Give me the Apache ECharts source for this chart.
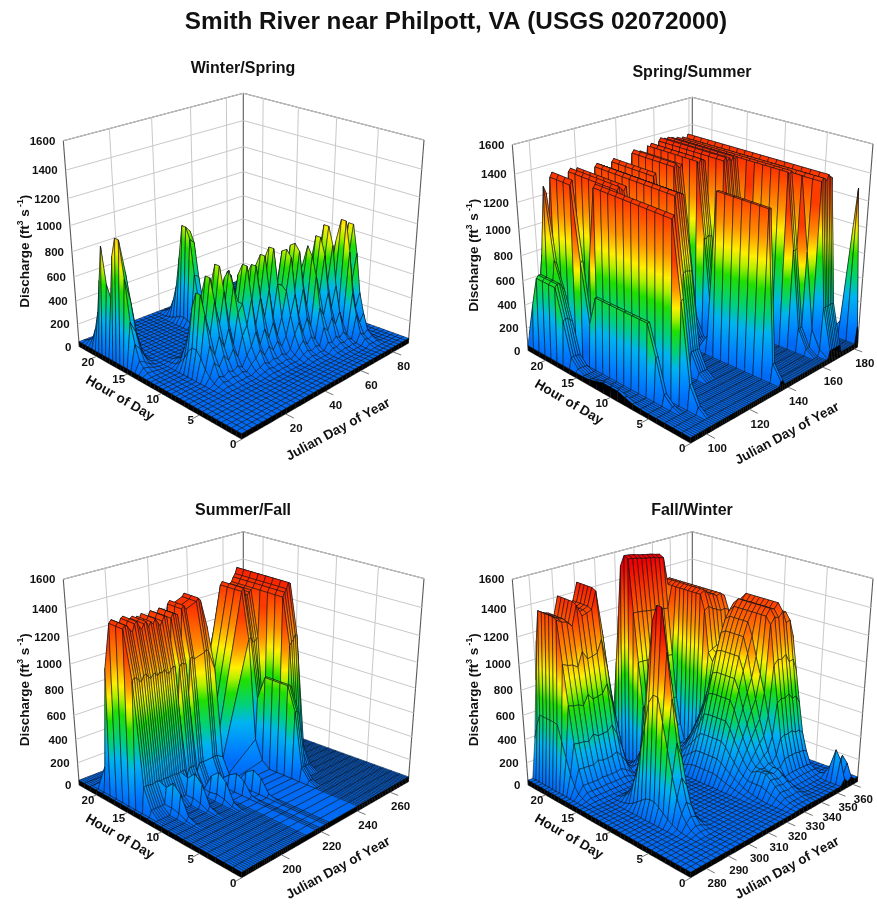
<!DOCTYPE html>
<html><head><meta charset="utf-8">
<script src="https://cdn.jsdelivr.net/npm/echarts@6/dist/echarts.min.js"></script>
<style>html,body{margin:0;padding:0;background:#fff}#c{width:877px;height:904px}</style></head>
<body><div id="c"></div>
<script>
// ---------- values ----------
const mainTitle = 'Smith River near Philpott, VA (USGS 02072000)';
const panelTitles = ['Winter/Spring','Spring/Summer','Summer/Fall','Fall/Winter'];
const qTicks = [0,200,400,600,800,1000,1200,1400,1600];
const hourTicks = [0,5,10,15,20];
const hourMax = 23;
const baseFlow = 45;
const dayRanges = [[0,90],[93,182],[182,272],[273,363]];
const dayTicks1 = [20,40,60,80];
const dayTicks2 = [100,120,140,160,180];
const dayTicks3 = [200,220,240,260];
const dayTicks4 = [280,290,300,310,320,330,340,350,360];
const missingDays3 = [213,214,215,216,220,221,225,226,227,228,229,230,231,232,233,234,235,236,237,238,239];
// mesh spacing of each plot, in days and hours
const meshDayStep = [2.25,1,1,2.25];
const meshHourStep = [0.575,1,1,0.575];

// hour-shoulder fractions either side of a release
const ramp1 = [.4,.1,.03];
const ramp2 = [.6,.15,.04];
const ramp3 = [.75,.16,.04];
const ramp4 = [.6,.22,.06,.02];
const rampNarrow = [.3,.05];
const rampSpike = [.15,.02];
const rampEdge = [.12,.03];
const rampDome = [.65,.3,.1,.03];
const rampWide = [.72,.48,.28,.14,.06];

// releases: [first full hour, last full hour, first day, [discharge on consecutive days], optional shoulder]
const releases1 = [
 [19,19,1,[930,930,930,300,100]],
 [16,17,1,[1030,1030,1030,860,680,450,300,170,100,60]],
 [18,19,39,[300,850,880,880,800,300]],
 [17,17,56,[300,700,700,300],rampNarrow],
 [9,10,13,[150,400,700,700,560,480,600,800,800,560,540,860,860,620,520,640,820]],
 [8,9,30,[820,560,540,830,830,620,500,620,800,800,560,540,850,850,620,520,640,880,880]],
 [7,8,49,[600,580,860,860,640,540,640,880,880,620,600,860]],
 [6,7,61,[860,640,560,640,900,900,640,620,960,960,660,560]],
 [5,6,73,[660,1000,1000,680,660,950,950,620,250,100,60]]
];
const releases2 = [
 [9,11,93,[90,90]],
 [18,21,94,[660,680,680,650,620]],
 [20,20,97,[1350,1300]],
 [17,20,100,[1400,1430]],
 [7,14,100,[640,640]],
 [5,15,104,[1400,1420]],
 [13,20,108,[1400,1420,1400,1380,1410]],
 [9,20,120,[1380,1400,1390,1380,1370]],
 [14,20,128,[1380,1400]],
 [2,8,136,[1350,1350],rampEdge],
 [14,20,138,[1400,1420,1400,1380,1400]],
 [13,20,146,[1420,1400,1430,1420,1410]],
 [11,20,152,[1430,1450,1420,1440,1410,1440,1420,1430]],
 [5,20,160,[1420,1400,1420]],
 [4,20,163,[1400]],
 [2,20,164,[1390,1410,1400,1380,1420,1400,1390],rampNarrow],
 [6,20,172,[720,700,730,690,700,680,640]],
 [1,1,181,[1280],rampEdge]
];
const releases3 = [
 [15,17,184,[1400,1420,1410,1380,1360,1410,1420,1380,1360,1390,1400,1360,1390,1370,1400,1370,1340,1370,1400,1390,1000,1370,1400,1390,1380,1020,1410,1430,1400,1390,1420,1410,1100,1430,1450,1430,1410,1370,1230]],
 [11,11,190,[100,300,100]],
 [11,11,200,[100,300,120]],
 [10,10,208,[100,280,100]],
 [10,10,217,[45,200,45]],
 [9,9,223,[220,45]],
 [15,18,240,[1400,1420,1370,1360,1380,1390]],
 [9,12,241,[800,800,780]],
 [11,18,246,[1400,1430,1450,1490,1480,1260]]
];
const releases4 = [
 [19,22,277,[300,900,1300,1400,1450,1350,1250,1350,1300,1250,1350,1400,1450,1400,1350,1400,1380,1300,1350,1400,1480,1500,1350,1200,1050,850,650,400,250,120,60]],
 [14,15,306,[100,250,420,480,500,450,350,200,100]],
 [19,20,313,[1650,1650,1650,1645,1640,1640,1635,1630,1630,1625,1620,1620,1615,1610,1610,1605,1600,1600,1595,1590]],
 [14,22,333,[1370,1380,1340,1400,1360,1350,1390,1370,1340,1360,1320,1370,1340,1300,1320,1290,1240,800,200]],
 [9,12,319,[100,130,170,220,280,340,400,470,540,610,680,750,820,890,960,1030,1090,1150,1200,1240],rampWide],
 [7,12,339,[1270,1300,1320,1340,1360,1380,1340,1320,1380,1360,1300,1260,1320,1280,1200,1160,300]],
 [4,5,324,[100,150,200,230,240,230,200,190,210,230,220,200,170,130,90],rampDome],
 [8,9,286,[100,300,700,1100,1350,1600,1600,1350,1100,700,300,100],rampDome],
 [1,1,351,[45,45,360,360,45,45,300,490,45],rampSpike]
];

// discharge -> colour stops
const colorQ = [0,150,380,520,730,850,950,1130,1350,1600];
const colorHex = ['#0060f0','#0080ff','#00b4f0','#00d080','#20e000','#b0f000','#fff000','#ff9000','#ff4800','#f00000'];

// ---------- layout ----------
const panelOrigin = [[63.3,93.3],[512.3,97.3],[63.3,531.8],[512.3,531.8]];
const rectW = 361, rectH = 346;
const floorBox = {F:[178.4,346],R:[345,250],B:[180,190],L:[16,253.4]};
const topBox = {F:[178.7,119],R:[360.7,46.7],B:[180,0],L:[0,47.4]};
const persp = 1.17;

function homography(b){
  const F=b.F,R=b.R,B=b.B,L=b.L;
  const dx1=R[0]-B[0],dx2=L[0]-B[0],dx3=F[0]-R[0]+B[0]-L[0];
  const dy1=R[1]-B[1],dy2=L[1]-B[1],dy3=F[1]-R[1]+B[1]-L[1];
  const det=dx1*dy2-dx2*dy1;
  const g=(dx3*dy2-dx2*dy3)/det,h=(dx1*dy3-dx3*dy1)/det;
  const a=R[0]-F[0]+g*R[0],bb=L[0]-F[0]+h*L[0],c=F[0];
  const d=R[1]-F[1]+g*R[1],e=L[1]-F[1]+h*L[1],f=F[1];
  return function(u,v){const s=g*u+h*v+1;return [(a*u+bb*v+c)/s,(d*u+e*v+f)/s];};
}
const floorH = homography(floorBox), topH = homography(topBox);

function projector(params, api){
  const r = params.coordSys;
  return function(day,hour,q){
    const c = api.coord([day,q]);
    const u = (c[0]-r.x)/r.width, w = (r.y+r.height-c[1])/r.height, v = hour/hourMax;
    const t = w/(w+(1-w)*persp);
    const a = floorH(u,v), b = topH(u,v);
    return [r.x+a[0]+(b[0]-a[0])*t, r.y+a[1]+(b[1]-a[1])*t];
  };
}

// ---------- colour ----------
function rgb(hex){return [parseInt(hex.substr(1,2),16),parseInt(hex.substr(3,2),16),parseInt(hex.substr(5,2),16)];}
const colorRgb = colorHex.map(rgb);
function colorAt(q){
  if(q<=colorQ[0]) return colorHex[0];
  for(let i=1;i<colorQ.length;i++){
    if(q<=colorQ[i]){
      const f=(q-colorQ[i-1])/(colorQ[i]-colorQ[i-1]),A=colorRgb[i-1],B=colorRgb[i];
      return 'rgb('+Math.round(A[0]+(B[0]-A[0])*f)+','+Math.round(A[1]+(B[1]-A[1])*f)+','+Math.round(A[2]+(B[2]-A[2])*f)+')';
    }
  }
  return colorHex[colorHex.length-1];
}
function fillFor(pts,qs){
  let lo=Math.min.apply(null,qs),hi=Math.max.apply(null,qs);
  if(hi-lo<25) return colorAt((lo+hi)/2);
  const mid=(lo+hi)/2;let yl=0,nl=0,yh=0,nh=0;
  for(let i=0;i<4;i++){ if(qs[i]<mid){yl+=pts[i][1];nl++;} else {yh+=pts[i][1];nh++;} }
  yl/=nl||1;yh/=nh||1;
  if(Math.abs(yl-yh)<1.5) return colorAt(mid);
  const stops=[{offset:0,color:colorAt(lo)}];
  for(let i=0;i<colorQ.length;i++){ if(colorQ[i]>lo&&colorQ[i]<hi) stops.push({offset:(colorQ[i]-lo)/(hi-lo),color:colorHex[i]}); }
  stops.push({offset:1,color:colorAt(hi)});
  return {type:'linear',x:0,y:yl,x2:0,y2:yh,global:true,colorStops:stops};
}

// ---------- surface ----------
function dailyTable(range,list,ramp){
  const table=[];
  for(let d=range[0];d<=range[1];d++){
    const row=[];
    for(let h=0;h<=hourMax;h++){
      let q=baseFlow;
      list.forEach(function(r){
        const i=d-r[2]; if(i<0||i>=r[3].length) return;
        const dist=h<r[0]?r[0]-h:(h>r[1]?h-r[1]:0);
        const sh=r[4]||ramp;
        const f=dist===0?1:(sh[dist-1]||0);
        q=Math.max(q,baseFlow+(r[3][i]-baseFlow)*f);
      });
      row.push(q);
    }
    table.push(row);
  }
  return table;
}
// read the table at a mesh node
function readTable(table,range,d,h){
  const x=Math.min(d-range[0],table.length-1.0001),y=Math.min(h,hourMax-0.0001);
  const i=Math.floor(x),j=Math.floor(y),fx=x-i,fy=y-j;
  const a=table[i][j]*(1-fy)+table[i][j+1]*fy;
  const b=table[Math.min(i+1,table.length-1)][j]*(1-fy)+table[Math.min(i+1,table.length-1)][j+1]*fy;
  return Math.round(a*(1-fx)+b*fx);
}
function meshList(lo,hi,step,missing){
  const out=[];const n=Math.round((hi-lo)/step);
  for(let i=0;i<=n;i++){const v=lo+i*(hi-lo)/n; if(!missing||missing.indexOf(v)<0) out.push(v);}
  return out;
}
function renderQuad(params,api){
  const p=projector(params,api);
  const d0=api.value(0),d1=api.value(1),h0=api.value(2),h1=api.value(3);
  const qs=[api.value(4),api.value(5),api.value(6),api.value(7)];
  const pts=[p(d0,h0,qs[0]),p(d1,h0,qs[1]),p(d1,h1,qs[2]),p(d0,h1,qs[3])];
  return {type:'polygon',shape:{points:pts},silent:true,style:{fill:fillFor(pts,qs),stroke:'#06101e',lineWidth:.55,lineJoin:'round'}};
}
function renderSkirt(params,api){
  const p=projector(params,api);
  const d0=api.value(0),d1=api.value(1),h0=api.value(2),h1=api.value(3),q0=api.value(4),q1=api.value(5);
  return {type:'polygon',shape:{points:[p(d0,h0,q0),p(d1,h1,q1),p(d1,h1,0),p(d0,h0,0)]},silent:true,style:{fill:'#000',stroke:'#000',lineWidth:.4}};
}
const labelFont='bold 11.5px "Liberation Sans", Arial, sans-serif';
const titleFont='bold 13.5px "Liberation Sans", Arial, sans-serif';
function line(a,b,color,w){return {type:'line',shape:{x1:a[0],y1:a[1],x2:b[0],y2:b[1]},silent:true,style:{stroke:color,lineWidth:w}};}
function renderGrid(range){
  return function(params,api){
    const p=projector(params,api),kind=api.value(0),val=api.value(1),d0=range[0],d1=range[1],col='#c9c9c9';
    if(kind===0) return {type:'group',children:[line(p(d0,hourMax,val),p(d1,hourMax,val),col,1),line(p(d1,hourMax,val),p(d1,0,val),col,1)]};
    if(kind===1) return line(p(val,hourMax,0),p(val,hourMax,1600),col,1);
    if(kind===2) return line(p(d1,val,0),p(d1,val,1600),col,1);
    const dk='#5a5a5a';
    return {type:'group',children:[line(p(d0,hourMax,1600),p(d1,hourMax,1600),dk,1.1),line(p(d1,hourMax,1600),p(d1,0,1600),dk,1.1),
      line(p(d0,hourMax,0),p(d0,hourMax,1600),dk,1.1),line(p(d1,hourMax,0),p(d1,hourMax,1600),dk,1.1),line(p(d1,0,0),p(d1,0,1600),dk,1.1)]};
  };
}
function renderAxes(range){
  return function(params,api){
    const p=projector(params,api),kind=api.value(0),val=api.value(1),d0=range[0],d1=range[1];
    const r=params.coordSys;
    if(kind===0){const a=p(d0,hourMax,val);
      return {type:'text',silent:true,style:{text:String(val),x:a[0]-8,y:a[1]+1,align:'right',verticalAlign:'middle',font:labelFont,fill:'#111'}};}
    if(kind===1){const a=p(val,0,0),b=p(val,-0.9,0);
      return {type:'group',children:[line(a,b,'#777',1),{type:'text',silent:true,style:{text:String(val),x:a[0]+10.5,y:a[1]+15,align:'center',verticalAlign:'middle',font:labelFont,fill:'#111'}}]};}
    if(kind===2){const a=p(d0,val,0),b=p(d0-3,val,0);
      return {type:'group',children:[line(a,b,'#777',1),{type:'text',silent:true,style:{text:String(val),x:a[0]-8.5,y:a[1]+6,align:'center',verticalAlign:'middle',font:labelFont,fill:'#111'}}]};}
    return {type:'group',children:[
      {type:'text',silent:true,x:r.x+56.5,y:r.y+305,rotation:-30*Math.PI/180,style:{text:'Hour of Day',align:'center',verticalAlign:'middle',font:titleFont,fill:'#111'}},
      {type:'text',silent:true,x:r.x+275,y:r.y+336.5,rotation:28.5*Math.PI/180,style:{text:'Julian Day of Year',align:'center',verticalAlign:'middle',font:titleFont,fill:'#111'}},
      {type:'text',silent:true,x:r.x-39,y:r.y+158,rotation:Math.PI/2,style:{text:'{a|Discharge (ft}{s|3}{a| s}{s| -1}{a|)}',align:'center',verticalAlign:'middle',fill:'#111',
        rich:{a:{font:titleFont,fill:'#111',lineHeight:16,verticalAlign:'bottom'},s:{font:'bold 8.5px "Liberation Sans", Arial, sans-serif',fill:'#111',lineHeight:16,verticalAlign:'top'}}}}
    ]};
  };
}

// ---------- assemble ----------
const allReleases=[releases1,releases2,releases3,releases4];
const allRamps=[ramp1,ramp2,ramp3,ramp4];
const allDayTicks=[dayTicks1,dayTicks2,dayTicks3,dayTicks4];
const allMissing=[null,null,missingDays3,null];
const grids=[],xAxes=[],yAxes=[],series=[];
const titles=[{text:mainTitle,left:451,top:5,textAlign:'center',textStyle:{fontFamily:'"Liberation Sans"',fontWeight:'bold',fontSize:24.3,color:'#111'}}];
const titleCentres=[[238,56],[687,60],[238,498],[687,498]];
panelOrigin.forEach(function(o,i){
  const range=dayRanges[i];
  const days=meshList(range[0],range[1],meshDayStep[i],allMissing[i]);
  const hours=meshList(0,hourMax,meshHourStep[i],null);
  const table=dailyTable(range,allReleases[i],allRamps[i]);
  const z=days.map(function(d){return hours.map(function(h){return readTable(table,range,d,h);});});
  grids.push({left:o[0],top:o[1],width:rectW,height:rectH,show:false});
  xAxes.push({gridIndex:i,type:'value',min:range[0],max:range[1],show:false});
  yAxes.push({gridIndex:i,type:'value',min:0,max:1600,show:false});
  titles.push({text:panelTitles[i],left:titleCentres[i][0],top:titleCentres[i][1],textAlign:'center',textStyle:{fontFamily:'"Liberation Sans"',fontWeight:'bold',fontSize:16,color:'#111'}});

  const gridRows=[[3,0]];
  qTicks.forEach(function(q){gridRows.push([0,q]);});
  allDayTicks[i].forEach(function(d){gridRows.push([1,d]);});
  hourTicks.slice(1).forEach(function(h){gridRows.push([2,h]);});
  const base={type:'custom',xAxisIndex:i,yAxisIndex:i,coordinateSystem:'cartesian2d',silent:true,animation:false,clip:false,progressive:0};
  series.push(Object.assign({},base,{renderItem:renderGrid(range),data:gridRows,encode:{x:1,y:1},z:1}));

  const quads=[];
  for(let a=days.length-2;a>=0;a--){
    for(let b=hours.length-2;b>=0;b--){
      quads.push([days[a],days[a+1],hours[b],hours[b+1],z[a][b],z[a+1][b],z[a+1][b+1],z[a][b+1]]);
    }
  }
  series.push(Object.assign({},base,{renderItem:renderQuad,data:quads,encode:{x:0,y:4},z:2}));

  const skirt=[];
  for(let a=days.length-2;a>=0;a--) skirt.push([days[a],days[a+1],0,0,z[a][0],z[a+1][0]]);
  for(let b=hours.length-2;b>=0;b--) skirt.push([days[0],days[0],hours[b],hours[b+1],z[0][b],z[0][b+1]]);
  series.push(Object.assign({},base,{renderItem:renderSkirt,data:skirt,encode:{x:0,y:4},z:3}));

  const axisRows=[[3,0]];
  qTicks.forEach(function(q){axisRows.push([0,q]);});
  allDayTicks[i].forEach(function(d){axisRows.push([1,d]);});
  hourTicks.forEach(function(h){axisRows.push([2,h]);});
  series.push(Object.assign({},base,{renderItem:renderAxes(range),data:axisRows,encode:{x:1,y:1},z:4}));
});
const chart=echarts.init(document.getElementById('c'),null,{renderer:'canvas'});
chart.setOption({animation:false,backgroundColor:'#fff',title:titles,grid:grids,xAxis:xAxes,yAxis:yAxes,series:series});
</script></body></html>
